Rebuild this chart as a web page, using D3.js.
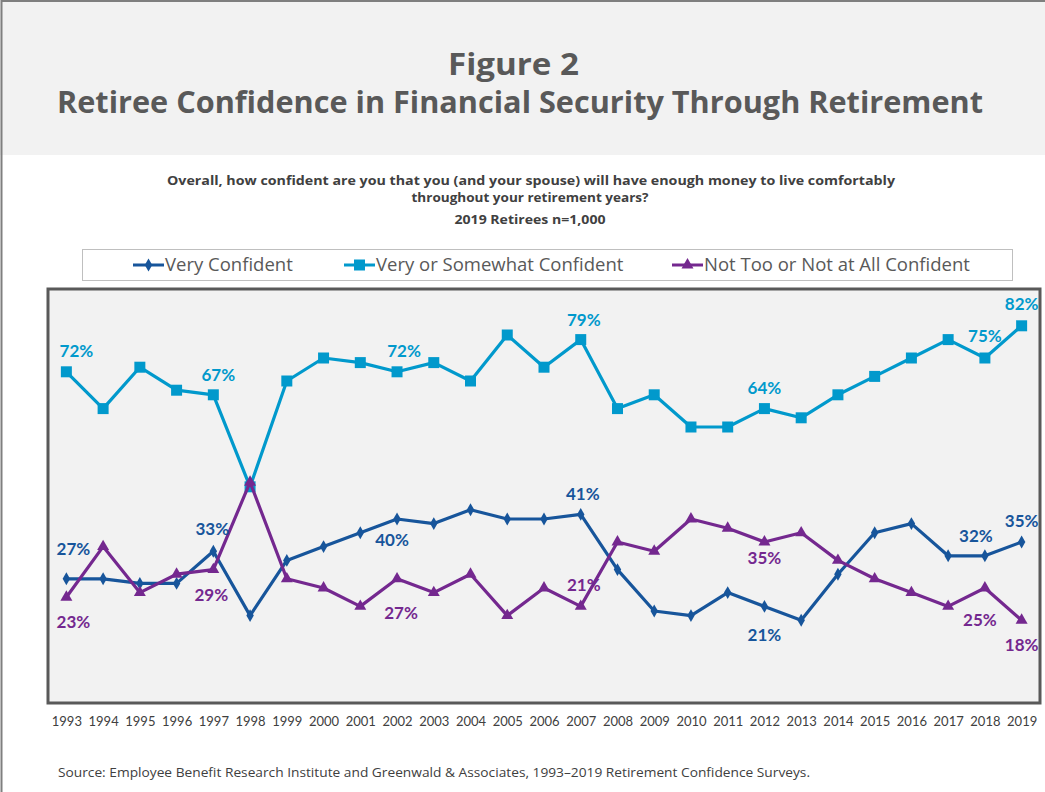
<!DOCTYPE html>
<html>
<head>
<meta charset="utf-8">
<script src="https://cdn.jsdelivr.net/npm/d3@7/dist/d3.min.js"></script>
<style>
  html, body { margin: 0; padding: 0; background: #ffffff; }
  svg { display: block; }
</style>
</head>
<body>
<svg id="chart" width="1045" height="792"></svg>
<script>
// Survey years (x categories)
const years = ["1993","1994","1995","1996","1997","1998","1999","2000","2001","2002",
  "2003","2004","2005","2006","2007","2008","2009","2010","2011","2012",
  "2013","2014","2015","2016","2017","2018","2019"];

// Percent of retirees in each confidence group
const veryConfident = [27,27,26,26,33,19,31,34,37,40,39,42,40,40,41,29,20,19,24,21,18,28,37,39,32,32,35];
const veryOrSomewhat = [72,64,73,68,67,47,70,75,74,72,74,70,80,73,79,64,67,60,60,64,62,67,71,75,79,75,82];
const notTooOrNotAtAll = [23,34,24,28,29,48,27,25,21,27,24,28,19,25,21,35,33,40,38,35,37,31,27,24,21,25,18];

// Years whose values are printed on the chart
const labeledYears = ["1993","1997","2002","2007","2012","2018","2019"];

const seriesNames = ["Very Confident", "Very or Somewhat Confident", "Not Too or Not at All Confident"];

const titleLines = ["Figure 2", "Retiree Confidence in Financial Security Through Retirement"];
const questionLines = [
  "Overall, how confident are you that you (and your spouse) will have enough money to live comfortably",
  "throughout your retirement years?"
];
const sampleNote = "2019 Retirees n=1,000";
const sourceNote = "Source:  Employee Benefit Research Institute and Greenwald & Associates, 1993\u20132019 Retirement Confidence Surveys.";

// ---- styling ----
const FONT = "'Open Sans', 'Liberation Sans', sans-serif";
const LABEL_FONT = "Lato, 'Open Sans', sans-serif";
const series = [
  { name: seriesNames[0], values: veryConfident, color: "#17559b", symbol: d3.symbolDiamond, size: 48, key: "very" },
  { name: seriesNames[1], values: veryOrSomewhat, color: "#0199cc", symbol: d3.symbolSquare, size: 121, key: "some" },
  { name: seriesNames[2], values: notTooOrNotAtAll, color: "#74288f", symbol: d3.symbolTriangle, size: 62, key: "not" }
];

// label offsets (dx, dy of label centre from the point)
const labelPlacement = {
  very: { "1993": [7,-30], "1997": [-1,-22], "2002": [-5,21], "2007": [2,-20], "2012": [0,29], "2018": [-9,-20], "2019": [0,-21] },
  some: { "1993": [10,-21], "1997": [5,-20], "2002": [7,-21], "2007": [3,-20], "2012": [0,-21], "2018": [0,-22], "2019": [0,-22] },
  not:  { "1993": [7,25], "1997": [-2,25], "2002": [4,34], "2007": [3,-21], "2012": [0,16], "2018": [-5,32], "2019": [0,25] }
};

const svg = d3.select("#chart");
const W = 1045, H = 792;

// header band
svg.append("rect").attr("x", 0).attr("y", 0).attr("width", W).attr("height", 155).attr("fill", "#f2f2f2");
// page frame
svg.append("rect").attr("x", 1.5).attr("y", 1).attr("width", W + 20).attr("height", H + 20)
  .attr("fill", "none").attr("stroke", "#7f7f7f").attr("stroke-width", 2);

// centred text, stretched to a set width
function fitted(xc, yb, txt, size, weight, color, width) {
  return svg.append("text").attr("x", xc).attr("y", yb).attr("text-anchor", "middle")
    .attr("font-family", FONT).attr("font-weight", weight).attr("font-size", size).attr("fill", color)
    .attr("textLength", width).attr("lengthAdjust", "spacingAndGlyphs")
    .text(txt);
}

fitted(513.5, 75, titleLines[0], 30, 700, "#595959", 131);
fitted(520, 113, titleLines[1], 30, 700, "#595959", 926);

fitted(531, 185, questionLines[0], 13, 700, "#404040", 728);
fitted(530, 201.5, questionLines[1], 13, 700, "#404040", 237);
fitted(530, 224, sampleNote, 13, 700, "#404040", 151);

// legend
svg.append("rect").attr("x", 82.5).attr("y", 249.5).attr("width", 930).attr("height", 31)
  .attr("fill", "#ffffff").attr("stroke", "#bfbfbf").attr("stroke-width", 1);
const legendX = [133, 344, 672];
series.forEach((s, i) => {
  const g = svg.append("g").attr("transform", `translate(${legendX[i]},265)`);
  g.append("line").attr("x1", 0).attr("x2", 31).attr("y1", 0).attr("y2", 0)
    .attr("stroke", s.color).attr("stroke-width", 3);
  g.append("path").attr("transform", "translate(15.5,0)")
    .attr("d", d3.symbol().type(s.symbol).size(s.size)()).attr("fill", s.color);
  g.append("text").attr("x", 32).attr("y", 0).attr("dy", "0.35em")
    .attr("font-family", FONT).attr("font-size", 18.5).attr("fill", "#595959").text(s.name);
});

// plot area
const plot = { left: 48, right: 1040, top: 289, bottom: 703 };
svg.append("rect").attr("x", plot.left).attr("y", plot.top)
  .attr("width", plot.right - plot.left).attr("height", plot.bottom - plot.top)
  .attr("fill", "#f2f2f2").attr("stroke", "#595959").attr("stroke-width", 3);

const x = d3.scalePoint().domain(years).range([plot.left, plot.right]).padding(0.5);
const y = d3.scaleLinear().domain([0, 90]).range([plot.bottom, plot.top]);

// year axis (labels only)
const xAxis = svg.append("g").attr("transform", `translate(0,${plot.bottom + 14})`)
  .call(d3.axisBottom(x).tickSize(0).tickPadding(0));
xAxis.select(".domain").remove();
xAxis.selectAll("text").attr("font-family", LABEL_FONT).attr("font-size", 13).attr("fill", "#404040");

const line = d3.line().x((d, i) => x(years[i])).y(d => y(d));

series.forEach(s => {
  const g = svg.append("g");
  g.append("path").datum(s.values).attr("d", line)
    .attr("fill", "none").attr("stroke", s.color).attr("stroke-width", 3.2).attr("stroke-linejoin", "round");
  g.selectAll("path.mk").data(s.values).join("path").attr("class", "mk")
    .attr("transform", (d, i) => `translate(${x(years[i])},${y(d)})`)
    .attr("d", d3.symbol().type(s.symbol).size(s.size)()).attr("fill", s.color);
});

// value labels on top
series.forEach(s => {
  labeledYears.forEach(yr => {
    const i = years.indexOf(yr);
    const off = labelPlacement[s.key][yr];
    svg.append("text")
      .attr("x", x(yr) + off[0]).attr("y", y(s.values[i]) + off[1]).attr("dy", "0.35em")
      .attr("text-anchor", "middle").attr("font-family", LABEL_FONT).attr("font-weight", 700)
      .attr("font-size", 17).attr("fill", s.color)
      .text(s.values[i] + "%");
  });
});

svg.append("text").attr("x", 58).attr("y", 777).attr("font-family", FONT)
  .attr("font-size", 13).attr("fill", "#404040")
  .attr("textLength", 752).attr("lengthAdjust", "spacingAndGlyphs").text(sourceNote);
</script>
</body>
</html>
